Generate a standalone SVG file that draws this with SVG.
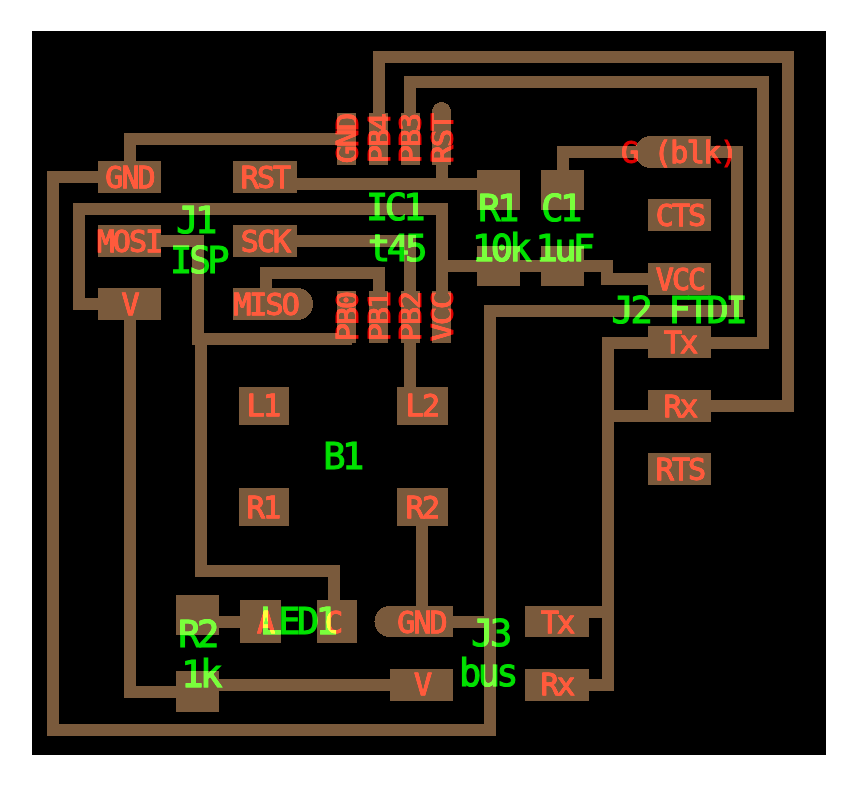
<svg xmlns="http://www.w3.org/2000/svg" width="857" height="787" viewBox="0 0 857 787">
<style>
.bg{fill:#000}
.p{fill:#7a5a3c;shape-rendering:crispEdges}
.w{fill:none;stroke:#7a5a3c;stroke-width:12;stroke-linejoin:miter;shape-rendering:crispEdges}
text{font-family:"DejaVu Sans Mono","Liberation Mono",monospace;text-anchor:middle;mix-blend-mode:plus-lighter}
.r{fill:#e10000;stroke:#e10000;stroke-width:.9;font-size:30px;letter-spacing:-1.9px}
.g{fill:#00e100;stroke:#00e100;stroke-width:1.1;font-size:37px;letter-spacing:-3.6px}
</style>
<rect width="857" height="787" fill="#fff"/>
<rect class="bg" x="32" y="31" width="794" height="724"/>
<g id="connectors">
<polyline class="w" points="378.5,113 378.5,56.5 787.5,56.5 787.5,405.5 711,405.5"/>
<polyline class="w" points="410,113 410,82 762.5,82 762.5,342.5 711,342.5"/>
<polyline class="w" points="337,139 129.5,139 129.5,161"/>
<polyline class="w" points="98,177 53,177 53,729.5 489.5,729.5 489.5,310.5 737,310.5 737,152 562.5,152 562.5,170"/>
<polyline class="w" points="297,183.5 477,183.5"/>
<polyline class="w" points="441.5,165 441.5,183.5"/>
<polyline class="w" points="98,304 78.5,304 78.5,209 441.5,209 441.5,291"/>
<polyline class="w" points="441.5,266 606.5,266 606.5,278.5 648,278.5"/>
<polyline class="w" points="297,240.5 410,240.5 410,387"/>
<polyline class="w" points="161,240.5 197.5,240.5 197.5,339 352,339"/>
<polyline class="w" points="200.5,339 200.5,570.5 333.5,570.5 333.5,600"/>
<polyline class="w" points="265.5,288 265.5,272.5 378.5,272.5 378.5,291"/>
<polyline class="w" points="129.5,320 129.5,691.5 176,691.5"/>
<polyline class="w" points="219,685 390,685"/>
<polyline class="w" points="219,621.5 240,621.5"/>
<polyline class="w" points="421.5,526 421.5,606"/>
<polyline class="w" points="453,621.5 489.5,621.5"/>
<polyline class="w" points="648,342.5 608,342.5 608,685 589,685"/>
<polyline class="w" points="648,415.5 608,415.5"/>
<polyline class="w" points="589,612 608,612"/>
</g>
<g id="IC1">
<rect class="p" x="337" y="113" width="19" height="52"/><rect class="p" x="369" y="113" width="19" height="52"/><rect class="p" x="401" y="113" width="19" height="52"/>
<path class="p" d="M432 165V111.500a9.500 9.500 0 0 1 19 0V165Z"/>
<rect class="p" x="337" y="291" width="19" height="52"/><rect class="p" x="369" y="291" width="19" height="52"/><rect class="p" x="401" y="291" width="19" height="52"/><rect class="p" x="432" y="291" width="19" height="52"/>
<text class="r" transform="translate(358,139) rotate(-90)">GND</text>
<text class="r" transform="translate(390,139) rotate(-90)">PB4</text>
<text class="r" transform="translate(421,139) rotate(-90)">PB3</text>
<text class="r" transform="translate(453,139) rotate(-90)">RST</text>
<text class="r" transform="translate(358,317) rotate(-90)">PB0</text>
<text class="r" transform="translate(390,317) rotate(-90)">PB1</text>
<text class="r" transform="translate(421,317) rotate(-90)">PB2</text>
<text class="r" transform="translate(453,317) rotate(-90)">VCC</text>
<text class="g" x="394" y="220">IC1</text>
<text class="g" x="396" y="261">t45</text>
</g>
<g id="J1">
<rect class="p" x="98" y="161" width="63" height="32"/><rect class="p" x="233" y="161" width="64" height="32"/>
<rect class="p" x="98" y="225" width="63" height="32"/><rect class="p" x="233" y="225" width="64" height="32"/>
<rect class="p" x="98" y="288" width="63" height="32"/>
<path class="p" d="M233 288H297a16 16 0 0 1 0 32H233Z"/>
<text class="r" x="129.500" y="188">GND</text>
<text class="r" x="265" y="188">RST</text>
<text class="r" x="129" y="252">MOSI</text>
<text class="r" x="265" y="252">SCK</text>
<text class="r" x="129.500" y="315">V</text>
<text class="r" x="265.500" y="315">MISO</text>
<text class="g" x="195" y="233">J1</text>
<text class="g" x="198" y="273">ISP</text>
</g>
<g id="R1">
<rect class="p" x="477" y="170" width="43" height="40"/><rect class="p" x="477" y="246" width="43" height="40"/>
<text class="g" x="497" y="220.500">R1</text>
<text class="g" x="500" y="261">10k</text>
</g>
<g id="C1">
<rect class="p" x="541" y="170" width="43" height="40"/><rect class="p" x="541" y="246" width="43" height="40"/>
<text class="g" x="560" y="220.500">C1</text>
<text class="g" x="563.500" y="261">1uF</text>
</g>
<g id="J2">
<path class="p" d="M711 136H651a16 16 0 0 0 0 32H711Z"/>
<rect class="p" x="648" y="199" width="63" height="32"/><rect class="p" x="648" y="263" width="63" height="32"/><rect class="p" x="648" y="326" width="63" height="32"/><rect class="p" x="648" y="390" width="63" height="32"/><rect class="p" x="648" y="453" width="63" height="32"/>
<text class="r" x="678.500" y="163" style="letter-spacing:-1.6px">G (blk)</text>
<text class="r" x="680" y="226">CTS</text>
<text class="r" x="680" y="290">VCC</text>
<text class="r" x="680" y="353">Tx</text>
<text class="r" x="680" y="417">Rx</text>
<text class="r" x="680" y="480">RTS</text>
<text class="g" x="678" y="323" style="letter-spacing:-3.3px">J2 FTDI</text>
</g>
<g id="B1">
<rect class="p" x="239" y="387" width="50" height="38"/><rect class="p" x="397" y="387" width="51" height="38"/><rect class="p" x="239" y="488" width="50" height="38"/><rect class="p" x="397" y="488" width="51" height="38"/>
<text class="r" x="263" y="416">L1</text>
<text class="r" x="422" y="416">L2</text>
<text class="r" x="263" y="518">R1</text>
<text class="r" x="422" y="518">R2</text>
<text class="g" x="342" y="469">B1</text>
</g>
<g id="LED1">
<rect class="p" x="240" y="600" width="41" height="43"/><rect class="p" x="317" y="600" width="40" height="43"/>
<text class="r" x="265" y="633">A</text>
<text class="r" x="333" y="633">C</text>
<text class="g" x="297" y="634">LED1</text>
</g>
<g id="R2">
<rect class="p" x="176" y="595" width="43" height="40"/><rect class="p" x="176" y="671" width="43" height="41"/>
<text class="g" x="197" y="647">R2</text>
<text class="g" x="200" y="687">1k</text>
</g>
<g id="J3">
<path class="p" d="M453 606H390a15.500 15.500 0 0 0 0 31H453Z"/>
<rect class="p" x="525" y="606" width="64" height="31"/><rect class="p" x="390" y="669" width="63" height="32"/><rect class="p" x="525" y="669" width="64" height="32"/>
<text class="r" x="421.500" y="633">GND</text>
<text class="r" x="557" y="633">Tx</text>
<text class="r" x="422" y="695">V</text>
<text class="r" x="557" y="695">Rx</text>
<text class="g" x="490" y="646">J3</text>
<text class="g" x="487" y="686">bus</text>
</g>
</svg>
